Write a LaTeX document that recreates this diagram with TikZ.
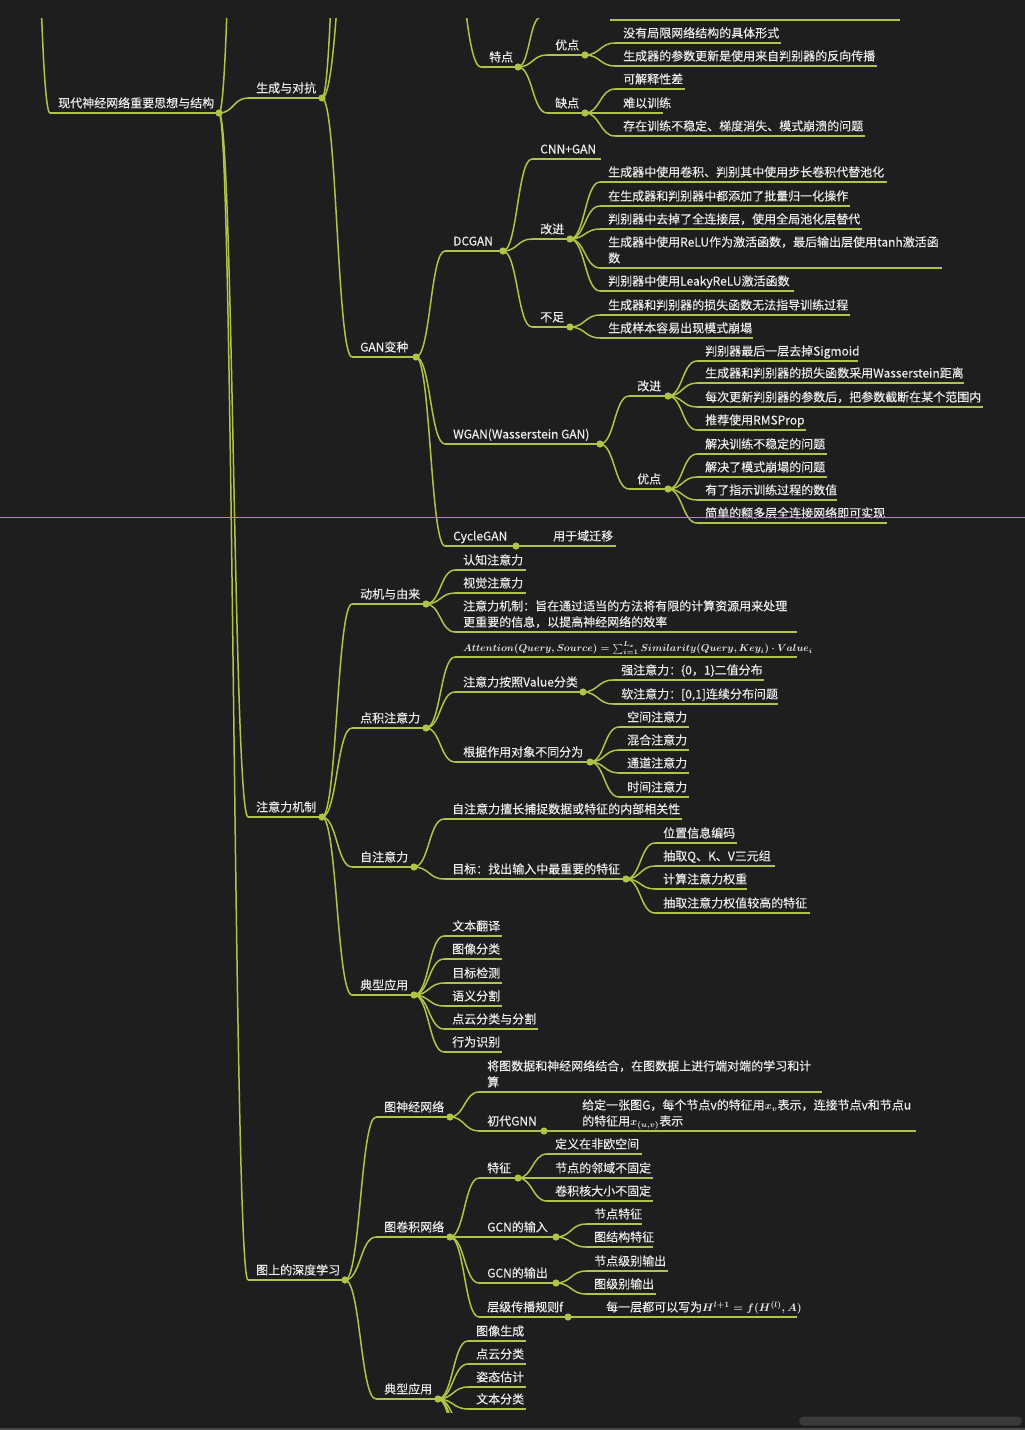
\documentclass[tikz,border=0pt]{standalone}
\usepackage{amsmath}
\usepackage{fontspec}
\usepackage{tikz}
\usetikzlibrary{calc}
\newfontfamily\cjk{Noto Sans CJK SC}[FakeBold=0.3]
\definecolor{board}{RGB}{30, 30, 30}
\definecolor{twig}{RGB}{178, 196, 72}
\definecolor{ink}{RGB}{236, 236, 236}
\definecolor{seam}{RGB}{70, 215, 60}
\definecolor{thumb}{RGB}{58, 58, 58}
\definecolor{rim}{RGB}{72, 72, 72}

% underlined topic: name, x0, x1, y, text
\newcommand\mm[5]{%
  \coordinate (#1-l) at (#2, #4);
  \coordinate (#1-r) at (#3, #4);
  \draw[branch] (#1-l) -- (#1-r);
  \node[word] (#1) at ($(#1-l) + (8, -5.5)$) {#5};
}
\newcommand\link[2]{%
  \path (#1-r) -- coordinate[pos=0.5] (mid) (#2-l);
  \draw[branch] (#1-r) .. controls (mid |- #1-r) and (mid |- #2-l) .. (#2-l);
}
\newcommand\knob[1]{\fill[twig] (#1-r) circle (3.6pt);}
\newcommand\eq[2][11]{{\fontsize{#1}{14}\selectfont\boldmath$#2$}}

\begin{document}
\begin{tikzpicture}[x=1pt, y=-1pt,
  branch/.style={draw=twig, line width=1.5pt},
  word/.style={font=\cjk\fontsize{12}{16}\selectfont, text=ink, inner sep=0pt,
    anchor=base west, align=left}]

\useasboundingbox (0, 0) rectangle (1025, 1430);
\fill[board] (0, 0) rectangle (1025, 1430);

\begin{scope}
\clip (0, 18.5) rectangle (1025, 1412);

% what runs off the top and the bottom
\coordinate (hidA-r) at (20, -600);
\coordinate (hidB-l) at (250, -800);
\coordinate (hidC-l) at (355, -126);
\coordinate (hidD-l) at (355, -662);
\coordinate (hidE-r) at (440, -150);
\coordinate (hidF-l) at (541, 17);
\draw[branch] (610, 20) -- (900, 20);

\mm{root}{50}{219}{113}{现代神经网络重要思想与结构}
\mm{gen}{248}{322}{98}{生成与对抗}
\mm{attn}{248}{322}{817}{注意力机制}
\mm{graph}{248}{345}{1280}{图上的深度学习}
\link{hidA}{root}
\foreach \c in {hidB, gen, attn, graph} {\link{root}{\c}}

% GAN
\mm{trait}{481}{518}{67}{特点}
\mm{pro}{547}{585}{55}{优点}
\mm{con}{547}{585}{113}{缺点}
\link{hidE}{trait}
\foreach \c in {hidF, pro, con} {\link{trait}{\c}}
\mm{pro1}{615}{781}{43}{没有局限网络结构的具体形式}
\mm{pro2}{615}{877}{66}{生成器的参数更新是使用来自判别器的反向传播}
\mm{con1}{615}{685}{89}{可解释性差}
\mm{con2}{615}{663}{113}{难以训练}
\mm{con3}{615}{865}{136}{存在训练不稳定、梯度消失、模式崩溃的问题}
\foreach \c in {1, 2} {\link{pro}{pro\c}}
\foreach \c in {1, 2, 3} {\link{con}{con\c}}

\mm{gan}{352}{416}{357}{GAN变种}
\foreach \c in {hidC, hidD, gan} {\link{gen}{\c}}
\mm{dc}{445}{503}{251}{DCGAN}
\mm{wg}{445}{600}{444}{WGAN(Wasserstein GAN)}
\mm{cyc}{445}{516}{546}{CycleGAN}
\foreach \c in {dc, wg, cyc} {\link{gan}{\c}}
\mm{cyc1}{545}{616}{546}{用于域迁移}
\link{cyc}{cyc1}

\mm{dc0}{532}{601}{159}{CNN+GAN}
\mm{dcup}{532}{570}{239}{改进}
\mm{dcbad}{532}{570}{327}{不足}
\foreach \c in {dc0, dcup, dcbad} {\link{dc}{\c}}
\mm{dcup1}{600}{887}{182}{生成器中使用卷积、判别其中使用步长卷积代替池化}
\mm{dcup2}{600}{850}{206}{在生成器和判别器中都添加了批量归一化操作}
\mm{dcup3}{600}{862}{229}{判别器中去掉了全连接层，使用全局池化层替代}
\mm{dcup4}{600}{942}{268}{生成器中使用ReLU作为激活函数，最后输出层使用tanh激活函\\数}
\mm{dcup5}{600}{794}{291}{判别器中使用LeakyReLU激活函数}
\foreach \c in {1,...,5} {\link{dcup}{dcup\c}}
\mm{dcbad1}{600}{850}{315}{生成器和判别器的损失函数无法指导训练过程}
\mm{dcbad2}{600}{753}{338}{生成样本容易出现模式崩塌}
\foreach \c in {1, 2} {\link{dcbad}{dcbad\c}}

\mm{wgup}{629}{668}{396}{改进}
\mm{wgpro}{629}{668}{489}{优点}
\foreach \c in {wgup, wgpro} {\link{wg}{\c}}
\mm{wgup1}{697}{858}{361}{判别器最后一层去掉Sigmoid}
\mm{wgup2}{697}{964}{383}{生成器和判别器的损失函数采用Wasserstein距离}
\mm{wgup3}{697}{983}{407}{每次更新判别器的参数后，把参数截断在某个范围内}
\mm{wgup4}{697}{806}{430}{推荐使用RMSProp}
\mm{wgpro1}{697}{827}{454}{解决训练不稳定的问题}
\mm{wgpro2}{697}{827}{477}{解决了模式崩塌的问题}
\mm{wgpro3}{697}{837}{500}{有了指示训练过程的数值}
\mm{wgpro4}{697}{887}{523}{简单的额多层全连接网络即可实现}
\foreach \c in {1,...,4} {\link{wgup}{wgup\c} \link{wgpro}{wgpro\c}}

% attention
\mm{why}{352}{426}{604}{动机与由来}
\mm{dp}{352}{426}{728}{点积注意力}
\mm{self}{352}{414}{867}{自注意力}
\mm{use}{352}{414}{995}{典型应用}
\foreach \c in {why, dp, self, use} {\link{attn}{\c}}
\mm{why1}{455}{526}{570}{认知注意力}
\mm{why2}{455}{526}{593}{视觉注意力}
\mm{why3}{455}{797}{632}{注意力机制：旨在通过适当的方法将有限的计算资源用来处理\\更重要的信息，以提高神经网络的效率}
\foreach \c in {1, 2, 3} {\link{why}{why\c}}

\mm{dp1}{455}{797}{657}{\eq[10.2]{Attention(Query, Source) = \sum_{i=1}^{L_x} Similarity(Query, Key_i)\cdot Value_i}}
\mm{val}{455}{583}{692}{注意力按照Value分类}
\mm{obj}{455}{590}{762}{根据作用对象不同分为}
\foreach \c in {dp1, val, obj} {\link{dp}{\c}}
\mm{val1}{613}{764}{680}{强注意力：\{0，1\}二值分布}
\mm{val2}{613}{778}{704}{软注意力：[0,1]连续分布问题}
\foreach \c in {1, 2} {\link{val}{val\c}}
\foreach \c/\y/\t in {1/727/空间注意力, 2/750/混合注意力, 3/773/通道注意力, 4/797/时间注意力}
  {\mm{obj\c}{619}{689}{\y}{\t} \link{obj}{obj\c}}

\mm{self1}{444}{682}{819}{自注意力擅长捕捉数据或特征的内部相关性}
\mm{goal}{444}{626}{879}{目标：找出输入中最重要的特征}
\foreach \c in {self1, goal} {\link{self}{\c}}
\mm{goal1}{655}{737}{843}{位置信息编码}
\mm{goal2}{655}{775}{866}{抽取Q、K、V三元组}
\mm{goal3}{655}{747}{889}{计算注意力权重}
\mm{goal4}{655}{810}{913}{抽取注意力权值较高的特征}
\foreach \c in {1,...,4} {\link{goal}{goal\c}}

\foreach \c/\x/\y/\t in {1/502/936/文本翻译, 2/502/959/图像分类, 3/502/983/目标检测,
    4/502/1006/语义分割, 5/538/1029/点云分类与分割, 6/502/1052/行为识别}
  {\mm{use\c}{444}{\x}{\y}{\t} \link{use}{use\c}}

% graphs
\mm{gnn}{376}{450}{1117}{图神经网络}
\mm{gcn}{376}{450}{1237}{图卷积网络}
\mm{gapp}{376}{438}{1399}{典型应用}
\foreach \c in {gnn, gcn, gapp} {\link{graph}{\c}}
\mm{gnn1}{479}{822}{1092}{将图数据和神经网络结合，在图数据上进行端对端的学习和计\\算}
\mm{first}{479}{544}{1131}{初代GNN}
\foreach \c in {gnn1, first} {\link{gnn}{\c}}
\mm{first1}{574}{916}{1131}{给定一张图G，每个节点v的特征用\eq{x_v}表示，连接节点v和节点u\\的特征用\eq{x_{(u,v)}}表示}
\link{first}{first1}

\mm{feat}{479}{518}{1178}{特征}
\mm{gin}{479}{556}{1237}{GCN的输入}
\mm{gout}{479}{556}{1283}{GCN的输出}
\mm{rule}{479}{568}{1317}{层级传播规则f}
\foreach \c in {feat, gin, gout, rule} {\link{gcn}{\c}}
\mm{feat1}{547}{642}{1154}{定义在非欧空间}
\mm{feat2}{547}{653}{1178}{节点的邻域不固定}
\mm{feat3}{547}{653}{1201}{卷积核大小不固定}
\foreach \c in {1, 2, 3} {\link{feat}{feat\c}}
\mm{gin1}{586}{642}{1224}{节点特征}
\mm{gin2}{586}{653}{1247}{图结构特征}
\mm{gout1}{586}{668}{1271}{节点级别输出}
\mm{gout2}{586}{656}{1294}{图级别输出}
\foreach \c in {1, 2} {\link{gin}{gin\c} \link{gout}{gout\c}}
\mm{rule1}{598}{797}{1317}{每一层都可以写为\eq{H^{l+1}=f(H^{(l)},A)}}
\link{rule}{rule1}

\foreach \c/\y/\t in {1/1341/图像生成, 2/1364/点云分类, 3/1387/姿态估计, 4/1409/文本分类}
  {\mm{gapp\c}{468}{526}{\y}{\t} \link{gapp}{gapp\c}}
\foreach \c/\y in {5/1432, 6/1455, 7/1478}
  {\coordinate (gapp\c-l) at (468, \y); \link{gapp}{gapp\c}}

\foreach \k in {root, gen, attn, graph, trait, pro, con, gan, dc, wg, cyc, dcup, dcbad,
    wgup, wgpro, why, dp, val, obj, self, goal, use, gnn, first, gcn, feat, gin, gout, rule, gapp}
  {\knob{\k}}
\end{scope}

% screenshot leftovers
\draw[seam, line width=1pt] (0, 517.3) -- (1025, 517.3);
\fill[thumb, rounded corners=4.5pt] (799, 1416.5) rectangle (1022, 1425.5);
\fill[rim] (0, 1427.5) rectangle (1025, 1430);
\end{tikzpicture}
\end{document}
